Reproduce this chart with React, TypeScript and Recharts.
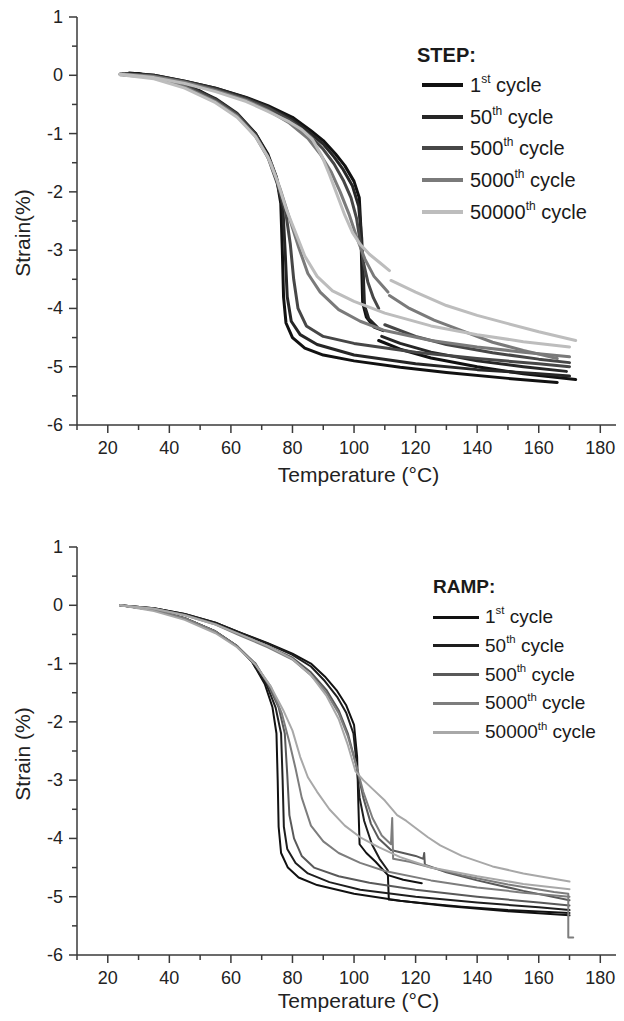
import { Line, LineChart, XAxis, YAxis } from "recharts";

type Pt = [number, number];

// temperature (°C), strain (%)
const xTicks = [10, 20, 30, 40, 50, 60, 70, 80, 90, 100, 110, 120, 130, 140, 150, 160, 170, 180];
const yTicks = [-6, -5.5, -5, -4.5, -4, -3.5, -3, -2.5, -2, -1.5, -1, -0.5, 0, 0.5, 1];

const cycleNames = ["1", "50", "500", "5000", "50000"];
const cycleSup = ["st", "th", "th", "th", "th"];
const stepColors = ["#111111", "#262626", "#474747", "#7a7a7a", "#bdbdbd"];
const rampColors = ["#111111", "#1e1e1e", "#595959", "#7d7d7d", "#a8a8a8"];

// STEP
const step1stA: Pt[] = [[24, 0.02], [30, 0.03], [40, -0.1], [50, -0.27], [57, -0.48], [63, -0.72], [68, -1.0], [72, -1.35], [74.8, -1.75], [76.2, -2.2], [76.7, -3.0], [77.1, -3.8], [77.9, -4.25], [80, -4.5], [84, -4.68], [90, -4.8], [100, -4.9], [115, -5.01], [130, -5.1], [150, -5.2], [166, -5.27]];
const step1stB: Pt[] = [[27, 0.04], [35, 0.0], [45, -0.1], [55, -0.22], [65, -0.38], [72, -0.52], [80, -0.72], [86, -0.95], [90, -1.12], [94, -1.35], [97, -1.55], [100, -1.82], [101.7, -2.1], [102.2, -2.6], [102.5, -3.3], [102.8, -3.9], [104, -4.15], [106.5, -4.32], [109.5, -4.38]];
const step1stC: Pt[] = [[108, -4.55], [115, -4.7], [125, -4.85], [140, -5.0], [155, -5.12], [172, -5.22]];

const step50thA: Pt[] = [[25, 0.02], [35, -0.02], [45, -0.15], [55, -0.4], [62, -0.65], [68, -1.0], [72, -1.38], [75, -1.8], [76.9, -2.3], [77.6, -3.0], [78.3, -3.8], [79.6, -4.22], [82.5, -4.45], [88, -4.62], [100, -4.8], [120, -4.95], [140, -5.05], [160, -5.12], [170, -5.16]];
const step50thB: Pt[] = [[26, 0.03], [35, 0.0], [45, -0.1], [55, -0.22], [65, -0.39], [72, -0.54], [80, -0.76], [86, -1.0], [90, -1.18], [93.5, -1.4], [96.5, -1.62], [99.5, -1.9], [101.5, -2.25], [102.5, -2.8], [103, -3.4], [103.4, -3.95], [104.8, -4.18], [107.5, -4.32]];
const step50thC: Pt[] = [[109, -4.48], [115, -4.6], [125, -4.75], [140, -4.9], [155, -5.0], [169, -5.08]];

const step500thA: Pt[] = [[25, 0.01], [35, -0.03], [45, -0.17], [55, -0.42], [62, -0.67], [68, -1.02], [72, -1.4], [75, -1.85], [77.8, -2.35], [79.3, -2.9], [80.4, -3.5], [81.8, -4.0], [84.5, -4.3], [90, -4.48], [100, -4.6], [120, -4.75], [140, -4.86], [160, -4.95], [170, -5.0]];
const step500thB: Pt[] = [[26, 0.02], [35, -0.01], [45, -0.11], [55, -0.24], [65, -0.41], [72, -0.56], [80, -0.8], [86, -1.05], [90, -1.27], [93.5, -1.52], [96.5, -1.8], [99, -2.1], [100.8, -2.45], [102, -2.85], [103, -3.2], [104.5, -3.55], [106.3, -3.82], [108, -4.0]];
const step500thC: Pt[] = [[110, -4.28], [120, -4.48], [130, -4.62], [145, -4.76], [160, -4.87], [170, -4.93]];

const step5000thA: Pt[] = [[24, 0.01], [35, -0.04], [45, -0.2], [55, -0.45], [62, -0.7], [68, -1.05], [73, -1.5], [76, -1.95], [79, -2.45], [82, -2.95], [85, -3.4], [89, -3.72], [95, -4.02], [102, -4.22], [110, -4.38], [125, -4.55], [140, -4.66], [155, -4.75], [170, -4.83]];
const step5000thB: Pt[] = [[25, 0.02], [35, -0.02], [45, -0.12], [55, -0.26], [65, -0.43], [72, -0.6], [79, -0.82], [85, -1.08], [89, -1.35], [92.5, -1.65], [95.5, -2.0], [98.5, -2.4], [101, -2.8], [103.5, -3.15], [106.5, -3.45], [109, -3.6], [111, -3.72]];
const step5000thC: Pt[] = [[111.5, -3.78], [118, -4.0], [126, -4.2], [135, -4.38], [145, -4.58], [155, -4.72], [166, -4.86]];

const step50000thA: Pt[] = [[24, 0.01], [35, -0.06], [45, -0.22], [55, -0.47], [62, -0.72], [68, -1.05], [72, -1.4], [75, -1.8], [78, -2.3], [81, -2.7], [84, -3.1], [88, -3.45], [93, -3.7], [100, -3.88], [110, -4.08], [125, -4.3], [140, -4.45], [155, -4.57], [170, -4.66]];
const step50000thB: Pt[] = [[24, 0.02], [35, -0.04], [45, -0.14], [55, -0.28], [65, -0.45], [72, -0.62], [79, -0.8], [83, -0.93], [86.5, -1.1], [89.5, -1.38], [92, -1.7], [94.5, -2.05], [97, -2.4], [99.5, -2.7], [102, -2.9], [105, -3.07], [108.5, -3.22], [111.5, -3.35]];
const step50000thC: Pt[] = [[112, -3.52], [120, -3.72], [130, -3.95], [140, -4.12], [150, -4.26], [160, -4.4], [172, -4.55]];

// RAMP
const ramp1stA: Pt[] = [[24, 0], [35, -0.08], [45, -0.22], [55, -0.45], [62, -0.7], [67, -0.98], [71, -1.35], [73.5, -1.75], [74.8, -2.2], [75.2, -3.0], [75.5, -3.8], [76.3, -4.25], [78.5, -4.5], [82, -4.67], [88, -4.8], [100, -4.95], [115, -5.07], [130, -5.16], [150, -5.25], [170, -5.32]];
const ramp1stB: Pt[] = [[24, 0], [35, -0.05], [45, -0.15], [55, -0.3], [63, -0.47], [72, -0.65], [80, -0.83], [86, -1.0], [90.5, -1.22], [94.5, -1.47], [97.5, -1.72], [100, -2.05], [101, -2.6], [101.4, -3.4], [101.8, -4.1], [104, -4.25], [107, -4.4], [111, -4.63], [116, -4.71], [122, -4.77]];
const ramp1stC: Pt[] = [[111, -4.63], [111.3, -5.05], [120, -5.1], [135, -5.17], [150, -5.23], [170, -5.28]];

const ramp50thA: Pt[] = [[24, 0], [35, -0.08], [45, -0.22], [55, -0.45], [62, -0.7], [67, -0.98], [71.5, -1.35], [74.5, -1.75], [76.3, -2.2], [76.8, -3.0], [77.2, -3.8], [78.3, -4.18], [81, -4.42], [85, -4.6], [92, -4.75], [102, -4.88], [120, -5.0], [140, -5.1], [160, -5.18], [170, -5.23]];
const ramp50thB: Pt[] = [[24, 0], [35, -0.05], [45, -0.15], [55, -0.3], [63, -0.47], [72, -0.66], [80, -0.85], [86, -1.05], [90.5, -1.3], [94.5, -1.57], [97.5, -1.85], [99.8, -2.2], [100.8, -2.7], [101.8, -3.3], [103.3, -3.7], [105.8, -4.1], [108.3, -4.35], [111, -4.55]];

const ramp500thA: Pt[] = [[24, 0], [35, -0.08], [45, -0.22], [55, -0.45], [62, -0.7], [68, -1.0], [72, -1.35], [75.5, -1.75], [77.5, -2.2], [78.3, -2.9], [79, -3.6], [80.5, -4.0], [83, -4.3], [87, -4.5], [95, -4.65], [105, -4.76], [120, -4.88], [140, -5.0], [160, -5.1], [170, -5.15]];
const ramp500thB: Pt[] = [[24, 0], [35, -0.06], [45, -0.16], [55, -0.32], [63, -0.5], [72, -0.7], [80, -0.9], [86, -1.15], [91, -1.45], [95, -1.8], [98, -2.2], [100.5, -2.7], [103, -3.3], [105.5, -3.75], [108, -4.0], [112, -4.2], [116, -4.25], [120, -4.3], [122.5, -4.35], [122.8, -4.25], [123, -4.45]];
const ramp500thC: Pt[] = [[123, -4.45], [130, -4.58], [140, -4.72], [155, -4.9], [170, -5.06]];

const ramp5000thA: Pt[] = [[24, 0], [35, -0.08], [45, -0.22], [55, -0.45], [62, -0.7], [68, -1.02], [73, -1.4], [76.5, -1.85], [79, -2.35], [81, -2.8], [83, -3.3], [86, -3.78], [90, -4.05], [95, -4.25], [102, -4.42], [110, -4.56], [125, -4.72], [140, -4.84], [155, -4.93], [170, -5.0]];
const ramp5000thB: Pt[] = [[24, 0], [35, -0.06], [45, -0.17], [55, -0.33], [63, -0.52], [72, -0.72], [80, -0.93], [86, -1.2], [91, -1.5], [95, -1.85], [98, -2.25], [100.5, -2.7], [103, -3.2], [106, -3.65], [109, -3.95], [112, -4.1], [112.4, -3.65], [112.7, -4.35], [118, -4.4], [125, -4.5], [135, -4.63], [150, -4.79], [165, -4.92], [169.6, -4.95], [169.6, -5.7], [171.2, -5.7]];

const ramp50000thA: Pt[] = [[24, 0], [35, -0.1], [45, -0.25], [55, -0.48], [62, -0.72], [68, -1.02], [73, -1.4], [77, -1.8], [80, -2.15], [82.5, -2.6], [85, -2.95], [88, -3.2], [92, -3.5], [97, -3.78], [102, -3.98], [108, -4.15], [115, -4.32], [125, -4.5], [140, -4.65], [155, -4.78], [170, -4.87]];
const ramp50000thB: Pt[] = [[24, 0], [35, -0.06], [45, -0.17], [55, -0.33], [63, -0.5], [72, -0.7], [80, -0.92], [86, -1.2], [91, -1.55], [95, -1.95], [98, -2.4], [100.5, -2.85], [103, -3.0], [106, -3.15], [110, -3.35], [114, -3.6], [117, -3.7], [120, -3.82], [124, -3.98], [128, -4.12], [135, -4.3], [145, -4.48], [155, -4.6], [170, -4.74]];

const stepCurves: Pt[][][] = [
  [step1stA, step1stB, step1stC],
  [step50thA, step50thB, step50thC],
  [step500thA, step500thB, step500thC],
  [step5000thA, step5000thB, step5000thC],
  [step50000thA, step50000thB, step50000thC],
];
const rampCurves: Pt[][][] = [
  [ramp1stA, ramp1stB, ramp1stC],
  [ramp50thA, ramp50thB],
  [ramp500thA, ramp500thB, ramp500thC],
  [ramp5000thA, ramp5000thB],
  [ramp50000thA, ramp50000thB],
];

const AXIS = "#3a3a3a";
const FONT = '"Liberation Sans", Arial, sans-serif';

const toRows = (pts: Pt[]) => pts.map(([t, s]) => ({ t, s }));

function BottomTick(props: any) {
  const { x, y, payload } = props;
  const major = payload.value % 20 === 0;
  return (
    <g>
      <line x1={x} x2={x} y1={y} y2={y + (major ? 8 : 5)} stroke={AXIS} strokeWidth={1.5} />
      {major && (
        <text x={x} y={y + 23} textAnchor="middle" dominantBaseline="central" fontSize={18} fill="#222" fontFamily={FONT}>
          {payload.value}
        </text>
      )}
    </g>
  );
}

function TopTick(props: any) {
  const { x, y, payload } = props;
  const major = payload.value % 20 === 0;
  return <line x1={x} x2={x} y1={y} y2={y + (major ? 8 : 5)} stroke={AXIS} strokeWidth={1.5} />;
}

function LeftTick(props: any) {
  const { x, y, payload } = props;
  const major = Number.isInteger(payload.value);
  return (
    <g>
      <line x1={x} x2={x - (major ? 8 : 5)} y1={y} y2={y} stroke={AXIS} strokeWidth={1.5} />
      {major && (
        <text x={x - 14} y={y} textAnchor="end" dominantBaseline="central" fontSize={18} fill="#222" fontFamily={FONT}>
          {payload.value}
        </text>
      )}
    </g>
  );
}

function RightTick(props: any) {
  const { x, y, payload } = props;
  const major = Number.isInteger(payload.value);
  return <line x1={x} x2={x - (major ? 8 : 5)} y1={y} y2={y} stroke={AXIS} strokeWidth={1.5} />;
}

function XTitle(props: any) {
  const { viewBox, dy } = props;
  return (
    <text x={viewBox.x + viewBox.width / 2 + 6} y={viewBox.y + dy} textAnchor="middle" dominantBaseline="central" fontSize={21} fill="#222" fontFamily={FONT}>
      Temperature (°C)
    </text>
  );
}

function YTitle(props: any) {
  const { viewBox, text, dy } = props;
  const cx = 22;
  const cy = viewBox.y + viewBox.height / 2 + dy;
  return (
    <text x={cx} y={cy} transform={`rotate(-90, ${cx}, ${cy})`} textAnchor="middle" dominantBaseline="central" fontSize={21} fill="#222" fontFamily={FONT}>
      {text}
    </text>
  );
}

function StrainChart({ curves, colors, width, yTitle, xTitleDy, yTitleDy }: { curves: Pt[][][]; colors: string[]; width: number; yTitle: string; xTitleDy: number; yTitleDy: number }) {
  return (
    <LineChart width={640} height={490} margin={{ top: 17, right: 12, bottom: 0, left: 0 }}>
      <XAxis dataKey="t" type="number" domain={[10, 189]} ticks={xTicks} interval={0} allowDataOverflow height={65} tickSize={0} tickMargin={0} stroke={AXIS} strokeWidth={1.5} tick={<BottomTick />} label={<XTitle dy={xTitleDy} />} />
      <XAxis xAxisId="top" orientation="top" mirror dataKey="t" type="number" domain={[10, 189]} ticks={xTicks} interval={0} allowDataOverflow height={0} tickSize={0} tickMargin={0} stroke={AXIS} strokeWidth={1.5} tick={<TopTick />} />
      <YAxis type="number" domain={[-6, 1]} ticks={yTicks} interval={0} allowDataOverflow width={77} tickSize={0} tickMargin={0} stroke={AXIS} strokeWidth={1.5} tick={<LeftTick />} label={<YTitle text={yTitle} dy={yTitleDy} />} />
      <YAxis yAxisId="right" orientation="right" mirror type="number" domain={[-6, 1]} ticks={yTicks} interval={0} allowDataOverflow width={0} tickSize={0} tickMargin={0} stroke={AXIS} strokeWidth={1.5} tick={<RightTick />} />
      {curves.map((segs, ci) =>
        segs.map((seg, si) => (
          <Line
            key={`${ci}-${si}`}
            data={toRows(seg)}
            dataKey="s"
            type="linear"
            stroke={colors[ci]}
            strokeWidth={width}
            strokeLinejoin="round"
            strokeLinecap="round"
            dot={false}
            activeDot={false}
            isAnimationActive={false}
          />
        ))
      )}
    </LineChart>
  );
}

function CycleLegend({ title, colors, left, top, lineX, lineW, textX, rowGap, firstRow, fontSize, lineH }: any) {
  return (
    <div style={{ position: "absolute", left: 0, top: 0, fontFamily: FONT, color: "#1a1a1a" }}>
      <div style={{ position: "absolute", left, top: top - 12, fontSize, fontWeight: "bold", lineHeight: "24px", whiteSpace: "nowrap" }}>{title}</div>
      {cycleNames.map((n, i) => {
        const cy = firstRow + i * rowGap;
        return (
          <div key={n}>
            <div style={{ position: "absolute", left: lineX, top: cy - lineH / 2, width: lineW, height: lineH, background: colors[i] }} />
            <div style={{ position: "absolute", left: textX, top: cy - 12, fontSize, lineHeight: "24px", whiteSpace: "nowrap" }}>
              {n}
              <span style={{ fontSize: fontSize * 0.6, position: "relative", top: -fontSize * 0.45 }}>{cycleSup[i]}</span> cycle
            </div>
          </div>
        );
      })}
    </div>
  );
}

export default function App() {
  return (
    <div style={{ position: "relative", margin: -8, width: 624, height: 1021, overflow: "hidden", background: "#fff" }}>
      <div style={{ position: "absolute", left: 0, top: 0 }}>
        <StrainChart curves={stepCurves} colors={stepColors} width={3} yTitle="Strain(%)" xTitleDy={49} yTitleDy={12} />
      </div>
      <div style={{ position: "absolute", left: 0, top: 530 }}>
        <StrainChart curves={rampCurves} colors={rampColors} width={2} yTitle="Strain (%)" xTitleDy={45} yTitleDy={3} />
      </div>
      <CycleLegend title="STEP:" colors={stepColors} left={417} top={55} lineX={422} lineW={41} textX={470} rowGap={31.7} firstRow={85} fontSize={20} lineH={4} />
      <CycleLegend title="RAMP:" colors={rampColors} left={433} top={587} lineX={433} lineW={46} textX={485} rowGap={28.8} firstRow={617} fontSize={19} lineH={3} />
    </div>
  );
}
